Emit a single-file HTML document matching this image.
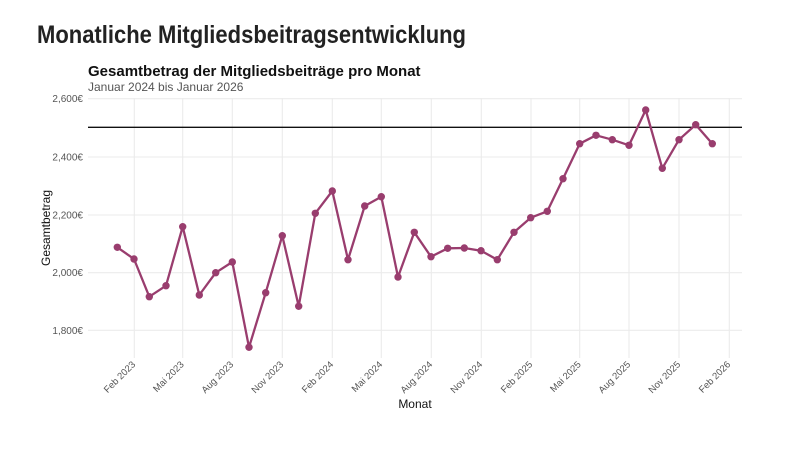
<!DOCTYPE html>
<html><head><meta charset="utf-8"><style>
body{margin:0;background:#fff;width:800px;height:450px;overflow:hidden}
svg text{font-family:"Liberation Sans",sans-serif}
</style></head><body>
<svg width="800" height="450" xmlns="http://www.w3.org/2000/svg">
<text x="37" y="43" font-size="25" font-weight="bold" fill="#222" textLength="429" lengthAdjust="spacingAndGlyphs">Monatliche Mitgliedsbeitragsentwicklung</text>
<text x="88" y="76" font-size="15" font-weight="bold" fill="#111">Gesamtbetrag der Mitgliedsbeiträge pro Monat</text>
<text x="88" y="91" font-size="12" fill="#555">Januar 2024 bis Januar 2026</text>
<g stroke="#ebebeb" stroke-width="1.1">
<line x1="88" x2="742" y1="98.7" y2="98.7"/><line x1="88" x2="742" y1="157" y2="157"/><line x1="88" x2="742" y1="215" y2="215"/><line x1="88" x2="742" y1="272.7" y2="272.7"/><line x1="88" x2="742" y1="330.3" y2="330.3"/>
<line x1="134.3" x2="134.3" y1="98" y2="358"/><line x1="182.7" x2="182.7" y1="98" y2="358"/><line x1="232.3" x2="232.3" y1="98" y2="358"/><line x1="282.3" x2="282.3" y1="98" y2="358"/><line x1="332.3" x2="332.3" y1="98" y2="358"/><line x1="381.3" x2="381.3" y1="98" y2="358"/><line x1="431.3" x2="431.3" y1="98" y2="358"/><line x1="481.3" x2="481.3" y1="98" y2="358"/><line x1="531" x2="531" y1="98" y2="358"/><line x1="579.7" x2="579.7" y1="98" y2="358"/><line x1="629" x2="629" y1="98" y2="358"/><line x1="679" x2="679" y1="98" y2="358"/><line x1="729.3" x2="729.3" y1="98" y2="358"/>
</g>
<line x1="88" x2="742" y1="127.3" y2="127.3" stroke="#111" stroke-width="1.3"/>
<g font-size="10" fill="#555" text-anchor="end">
<text x="83" y="102">2,600€</text><text x="83" y="160.5">2,400€</text><text x="83" y="218.5">2,200€</text><text x="83" y="276">2,000€</text><text x="83" y="334">1,800€</text>
</g>
<g font-size="9.5" fill="#555" text-anchor="end">
<text transform="translate(136,365) rotate(-45)">Feb 2023</text>
<text transform="translate(184.5,365) rotate(-45)">Mai 2023</text>
<text transform="translate(234,365) rotate(-45)">Aug 2023</text>
<text transform="translate(284,365) rotate(-45)">Nov 2023</text>
<text transform="translate(334,365) rotate(-45)">Feb 2024</text>
<text transform="translate(383,365) rotate(-45)">Mai 2024</text>
<text transform="translate(433,365) rotate(-45)">Aug 2024</text>
<text transform="translate(483,365) rotate(-45)">Nov 2024</text>
<text transform="translate(533,365) rotate(-45)">Feb 2025</text>
<text transform="translate(581.5,365) rotate(-45)">Mai 2025</text>
<text transform="translate(631,365) rotate(-45)">Aug 2025</text>
<text transform="translate(681,365) rotate(-45)">Nov 2025</text>
<text transform="translate(731,365) rotate(-45)">Feb 2026</text>
</g>
<text x="415" y="408" font-size="12" fill="#111" text-anchor="middle">Monat</text>
<text transform="translate(50,228) rotate(-90)" font-size="12" fill="#111" text-anchor="middle">Gesamtbetrag</text>
<polyline fill="none" stroke="#993d6e" stroke-width="2.3" stroke-linejoin="round" points="117.3,247.3 134,259 149.3,296.7 166,285.7 182.7,226.7 199.3,295 215.7,272.7 232.3,262 249,347.3 265.7,292.7 282.3,235.7 298.7,306.3 315.3,213.3 332.3,191 348,259.7 364.7,206 381.3,196.7 398,277 414.3,232.3 431,256.7 447.7,248.3 464.3,248 481,250.7 497.3,259.7 514,232.3 530.7,217.7 547.3,211.3 563,178.7 579.7,143.7 596,135.3 612.3,139.7 629,145.3 645.7,110 662.3,168.3 679,139.7 695.7,124.7 712.3,143.7"/>
<g fill="#993d6e">
<circle cx="117.3" cy="247.3" r="3.7"/><circle cx="134" cy="259" r="3.7"/><circle cx="149.3" cy="296.7" r="3.7"/><circle cx="166" cy="285.7" r="3.7"/><circle cx="182.7" cy="226.7" r="3.7"/><circle cx="199.3" cy="295" r="3.7"/><circle cx="215.7" cy="272.7" r="3.7"/><circle cx="232.3" cy="262" r="3.7"/><circle cx="249" cy="347.3" r="3.7"/><circle cx="265.7" cy="292.7" r="3.7"/><circle cx="282.3" cy="235.7" r="3.7"/><circle cx="298.7" cy="306.3" r="3.7"/><circle cx="315.3" cy="213.3" r="3.7"/><circle cx="332.3" cy="191" r="3.7"/><circle cx="348" cy="259.7" r="3.7"/><circle cx="364.7" cy="206" r="3.7"/><circle cx="381.3" cy="196.7" r="3.7"/><circle cx="398" cy="277" r="3.7"/><circle cx="414.3" cy="232.3" r="3.7"/><circle cx="431" cy="256.7" r="3.7"/><circle cx="447.7" cy="248.3" r="3.7"/><circle cx="464.3" cy="248" r="3.7"/><circle cx="481" cy="250.7" r="3.7"/><circle cx="497.3" cy="259.7" r="3.7"/><circle cx="514" cy="232.3" r="3.7"/><circle cx="530.7" cy="217.7" r="3.7"/><circle cx="547.3" cy="211.3" r="3.7"/><circle cx="563" cy="178.7" r="3.7"/><circle cx="579.7" cy="143.7" r="3.7"/><circle cx="596" cy="135.3" r="3.7"/><circle cx="612.3" cy="139.7" r="3.7"/><circle cx="629" cy="145.3" r="3.7"/><circle cx="645.7" cy="110" r="3.7"/><circle cx="662.3" cy="168.3" r="3.7"/><circle cx="679" cy="139.7" r="3.7"/><circle cx="695.7" cy="124.7" r="3.7"/><circle cx="712.3" cy="143.7" r="3.7"/>
</g>
</svg>
</body></html>
